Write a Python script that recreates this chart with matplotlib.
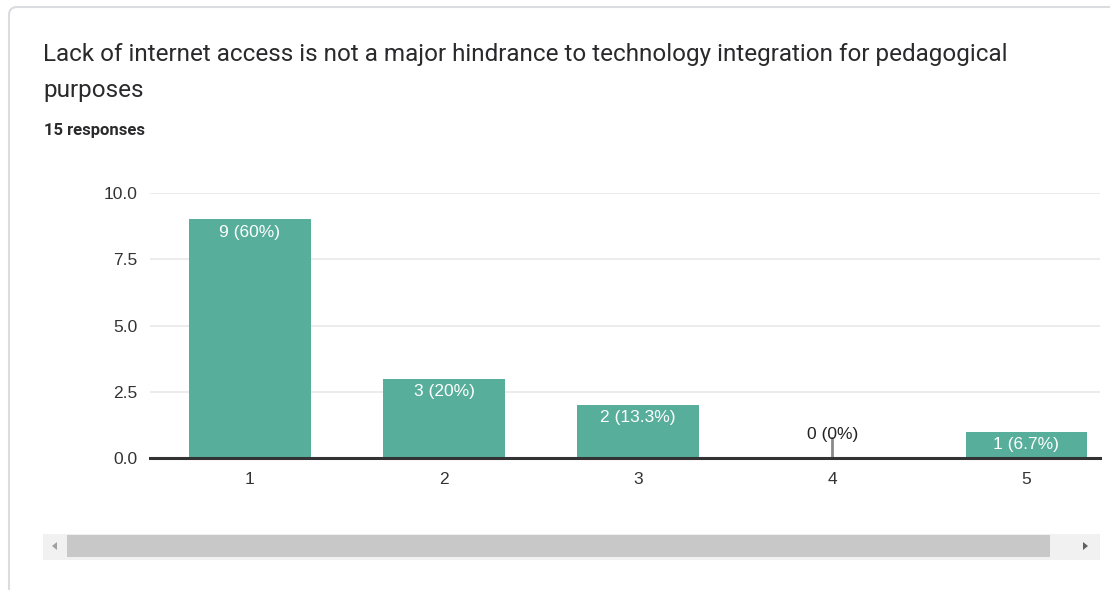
import matplotlib
matplotlib.use("Agg")
import matplotlib.pyplot as plt
from matplotlib.patches import FancyBboxPatch, Rectangle, Polygon

# Survey results
title_lines = ["Lack of internet access is not a major hindrance to technology integration for pedagogical",
               "purposes"]
subtitle = "15 responses"
categories = ["1", "2", "3", "4", "5"]
counts = [9, 3, 2, 0, 1]
pct_labels = ["60%", "20%", "13.3%", "0%", "6.7%"]
yticks = [0.0, 2.5, 5.0, 7.5, 10.0]

W, H = 1110, 590
fig = plt.figure(figsize=(W / 100, H / 100), dpi=100)
fig.patch.set_facecolor("white")

# Pixel-space background layer for card, titles and scrollbar
bg = fig.add_axes([0, 0, 1, 1])
bg.set_xlim(0, W)
bg.set_ylim(H, 0)
bg.axis("off")

card = FancyBboxPatch((9, 7), 1200, 700, boxstyle="round,pad=0,rounding_size=8",
                      linewidth=1.5, edgecolor="#dadce0", facecolor="white")
bg.add_patch(card)

bg.text(43, 55, title_lines[0], fontsize=17.5, family="Roboto", color="#2a2a2c", va="center")
bg.text(43, 90, title_lines[1], fontsize=17.5, family="Roboto", color="#2a2a2c", va="center")
bg.text(44, 131, subtitle, fontsize=12, family="Roboto", fontweight="bold",
        color="#2a2a2c", va="center")

# Horizontal scrollbar under the chart
bg.add_patch(Rectangle((43, 534), 1057, 26, facecolor="#f1f1f1", edgecolor="none"))
bg.add_patch(Rectangle((67, 535), 983, 22, facecolor="#c8c8c8", edgecolor="none"))
bg.add_patch(Polygon([[52, 546], [57, 542], [57, 550]], closed=True, facecolor="#a0a0a0", edgecolor="none"))
bg.add_patch(Polygon([[1088, 546], [1083, 542], [1083, 550]], closed=True, facecolor="#606060", edgecolor="none"))

# Bar chart
x0, x1 = 150, 1100
ytop, ybot = 193, 458
ax = fig.add_axes([x0 / W, (H - ybot) / H, (x1 - x0) / W, (ybot - ytop) / H])
ax.set_facecolor("none")
xs = list(range(1, len(categories) + 1))
bar_color = "#57ae9b"
ax.bar(xs, counts, width=0.625, color=bar_color, zorder=3)
ax.set_xlim(0.485, 5.38)
ax.set_ylim(0, 10)
ax.set_yticks(yticks)
ax.set_yticklabels([f"{v:.1f}" for v in yticks])
ax.set_xticks(xs)
ax.set_xticklabels(categories)
ax.grid(axis="y", color="#ebebeb", linewidth=1.3, zorder=0)
for s in ["top", "right", "left"]:
    ax.spines[s].set_visible(False)
ax.spines["bottom"].set_color("#333333")
ax.spines["bottom"].set_linewidth(2.2)
ax.spines["bottom"].set_zorder(4)
ax.tick_params(axis="both", length=0, labelsize=12.5, labelcolor="#333333")
ax.tick_params(axis="y", pad=9)
ax.tick_params(axis="x", pad=10)
for lbl in ax.get_xticklabels() + ax.get_yticklabels():
    lbl.set_family("Liberation Sans")

for x, c, p in zip(xs, counts, pct_labels):
    text = f"{c} ({p})"
    if c > 0:
        ax.text(x, c - 0.2, text, ha="center", va="top", color="white",
                fontsize=12.5, family="Liberation Sans", zorder=5)
    else:
        ax.plot([x, x], [0, 0.75], color="#8a8a8a", linewidth=2, zorder=4)
        ax.text(x, 0.62, text, ha="center", va="bottom", color="#222222",
                fontsize=12.5, family="Liberation Sans", zorder=5)

fig.savefig("out.png", dpi=100, facecolor="white")
